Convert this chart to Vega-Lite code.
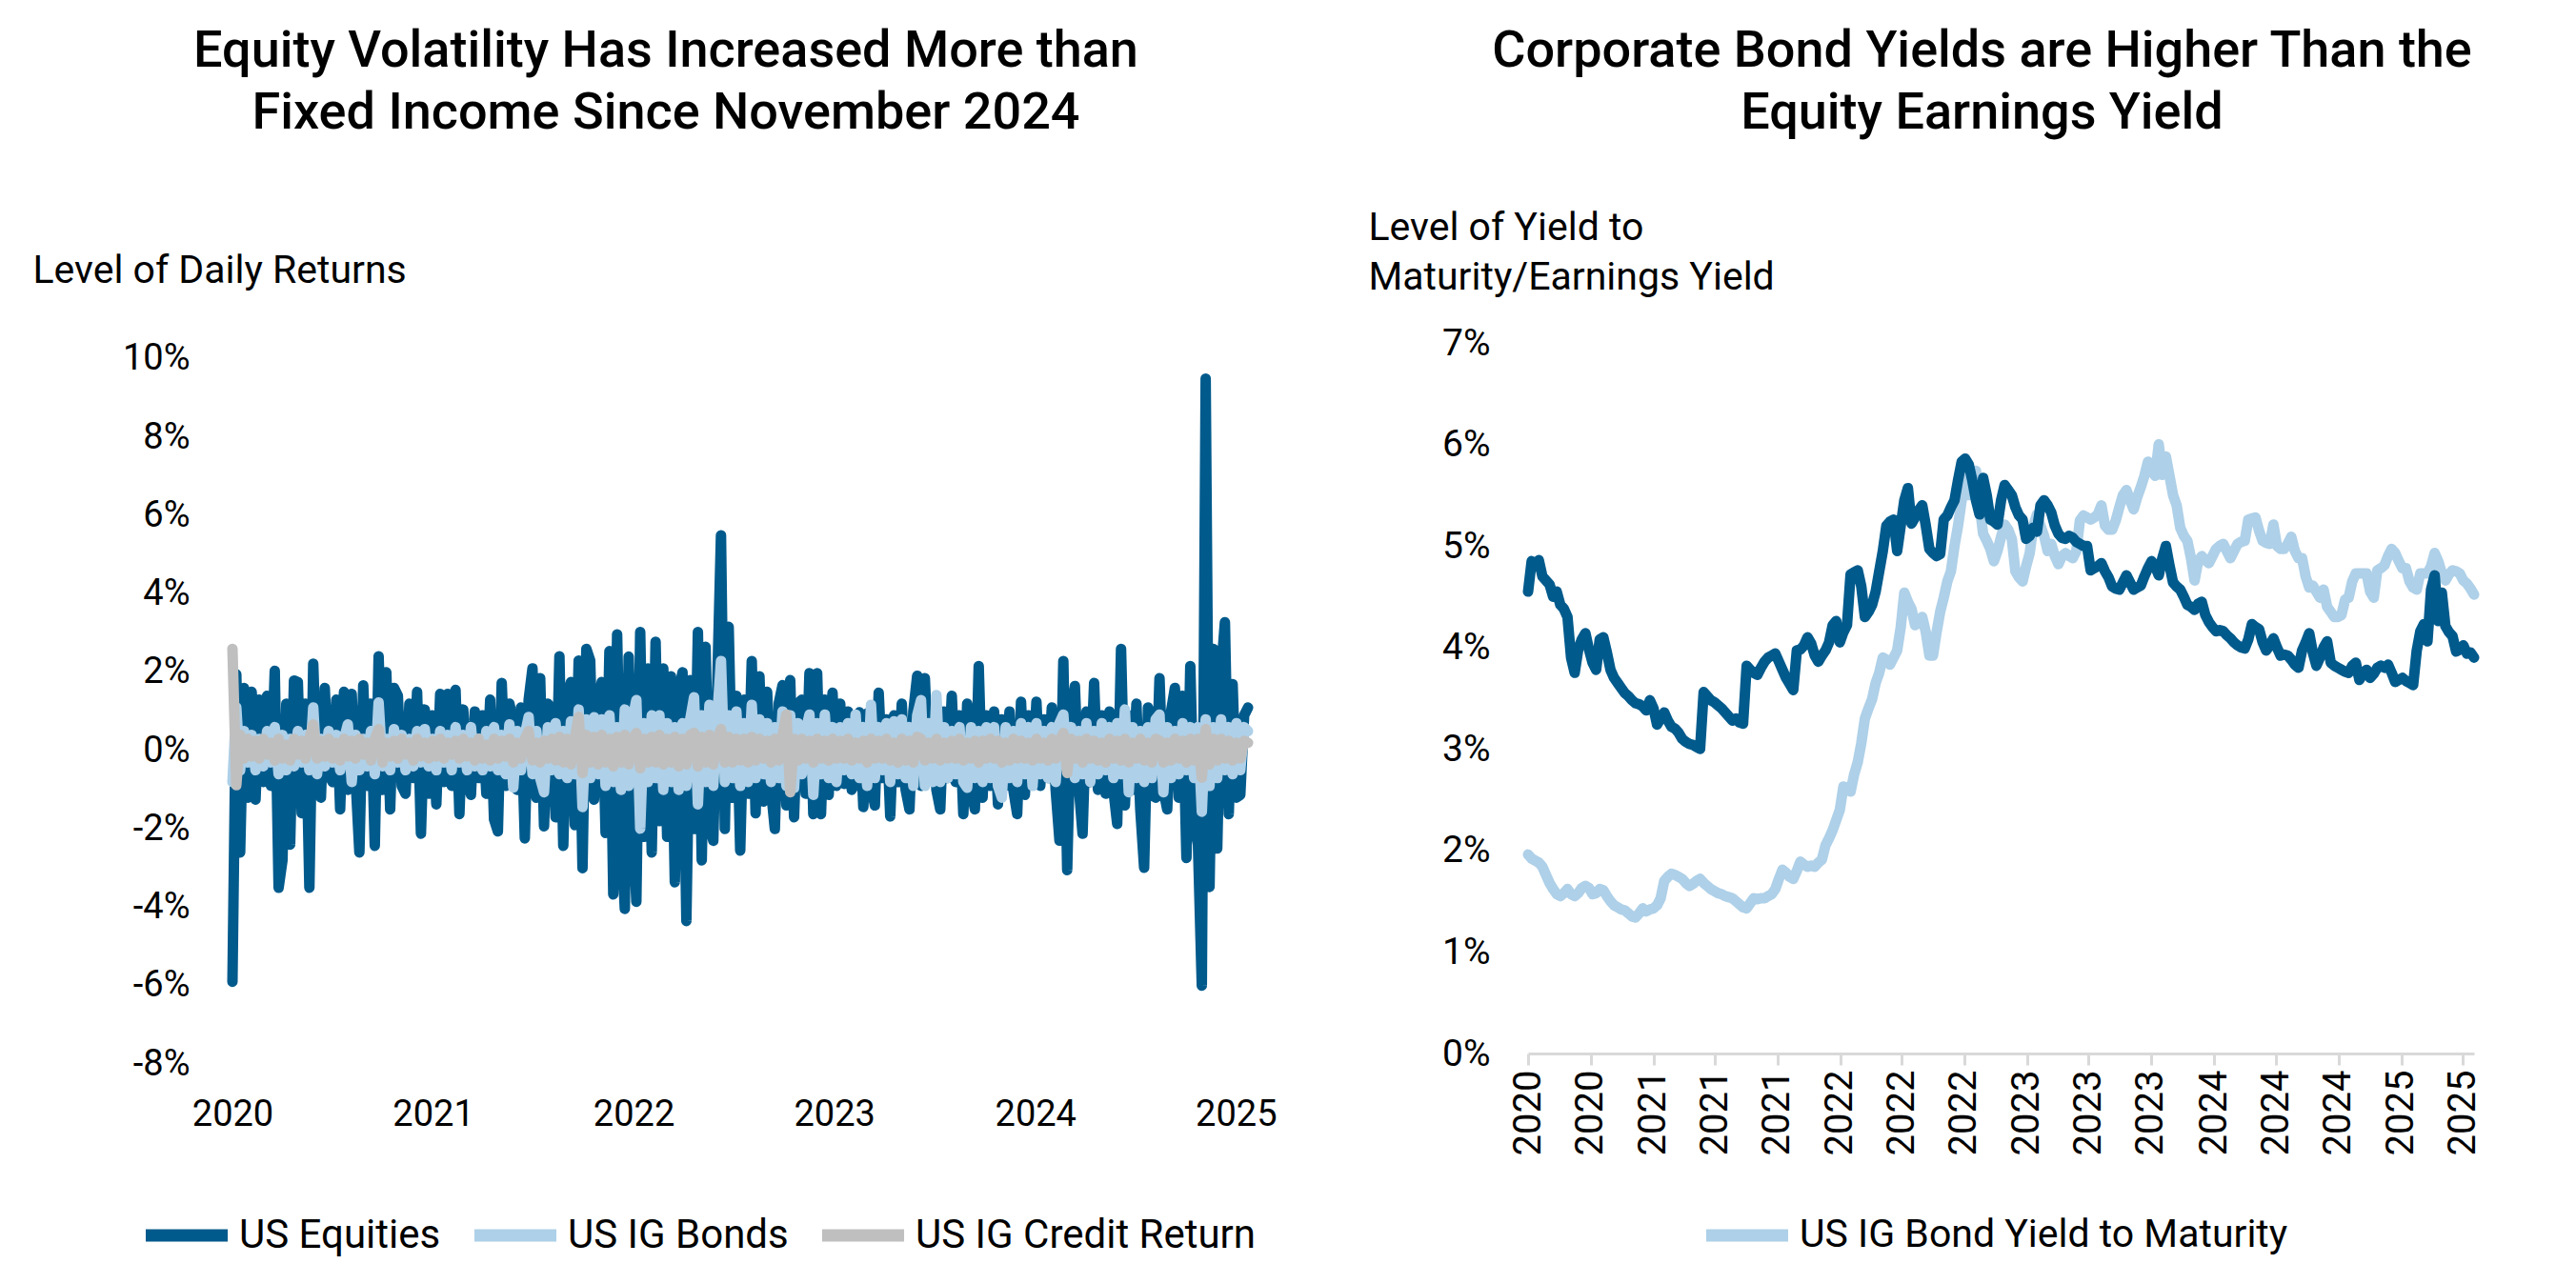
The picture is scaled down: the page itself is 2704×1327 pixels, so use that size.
{
"$schema":"https://vega.github.io/schema/vega-lite/v6.json",
"background":"white",
"padding":{"left":34,"top":27,"right":40,"bottom":10},
"bounds":"flush",
"spacing":294,
"config":{"font":"Roboto","view":{"stroke":null},
"axis":{"labelFont":"Roboto","titleFont":"Roboto","labelColor":"#000","titleColor":"#000","grid":false},
"legend":{"labelFont":"Roboto","labelColor":"#000"},
"title":{"font":"Roboto","color":"#000"}},
"resolve":{"scale":{"color":"independent"},"legend":{"color":"independent"}},
"datasets":{"w":[
{"d":"2020-06-05","eq":-5.9,"bd":-0.8,"cr":2.6,"ey":4.55,"ytm":1.96},
{"d":"2020-06-12","eq":1.95,"bd":1.1,"cr":-0.88,"ey":4.85,"ytm":1.92},
{"d":"2020-06-19","eq":-2.6,"bd":-0.5,"cr":0.4,"ey":4.80,"ytm":1.90},
{"d":"2020-06-26","eq":1.6,"bd":0.5,"cr":-0.2,"ey":4.86,"ytm":1.88},
{"d":"2020-07-03","eq":-1.2,"bd":-0.3,"cr":0.3,"ey":4.70,"ytm":1.84},
{"d":"2020-07-10","eq":1.5,"bd":0.4,"cr":-0.15,"ey":4.66,"ytm":1.76},
{"d":"2020-07-17","eq":-1.25,"bd":-0.5,"cr":0.25,"ey":4.62,"ytm":1.68},
{"d":"2020-07-24","eq":1.3,"bd":0.3,"cr":-0.2,"ey":4.50,"ytm":1.62},
{"d":"2020-07-31","eq":-0.8,"bd":-0.4,"cr":0.3,"ey":4.55,"ytm":1.57},
{"d":"2020-08-07","eq":1.4,"bd":0.5,"cr":-0.1,"ey":4.42,"ytm":1.55},
{"d":"2020-08-14","eq":-0.9,"bd":-0.3,"cr":0.2,"ey":4.38,"ytm":1.58},
{"d":"2020-08-21","eq":2.04,"bd":0.6,"cr":-0.25,"ey":4.30,"ytm":1.62},
{"d":"2020-08-28","eq":-3.5,"bd":-0.6,"cr":0.3,"ey":3.90,"ytm":1.57},
{"d":"2020-09-04","eq":-2.8,"bd":0.4,"cr":-0.2,"ey":3.75,"ytm":1.55},
{"d":"2020-09-11","eq":1.2,"bd":-0.5,"cr":0.15,"ey":3.98,"ytm":1.58},
{"d":"2020-09-18","eq":-2.4,"bd":0.3,"cr":-0.25,"ey":4.08,"ytm":1.63},
{"d":"2020-09-25","eq":1.79,"bd":-0.4,"cr":0.3,"ey":4.14,"ytm":1.65},
{"d":"2020-10-02","eq":1.75,"bd":0.5,"cr":-0.1,"ey":3.98,"ytm":1.63},
{"d":"2020-10-09","eq":-1.6,"bd":-0.3,"cr":0.25,"ey":3.85,"ytm":1.57},
{"d":"2020-10-16","eq":1.2,"bd":0.4,"cr":-0.2,"ey":3.78,"ytm":1.58},
{"d":"2020-10-23","eq":-3.5,"bd":-0.5,"cr":0.3,"ey":4.08,"ytm":1.62},
{"d":"2020-10-30","eq":2.22,"bd":1.1,"cr":0.67,"ey":4.10,"ytm":1.61},
{"d":"2020-11-06","eq":-0.8,"bd":-0.6,"cr":-0.2,"ey":3.95,"ytm":1.55},
{"d":"2020-11-13","eq":-1.2,"bd":0.3,"cr":0.25,"ey":3.78,"ytm":1.50},
{"d":"2020-11-20","eq":1.6,"bd":-0.4,"cr":-0.15,"ey":3.70,"ytm":1.46},
{"d":"2020-11-27","eq":-0.6,"bd":0.5,"cr":0.3,"ey":3.65,"ytm":1.44},
{"d":"2020-12-04","eq":-0.8,"bd":-0.3,"cr":-0.2,"ey":3.60,"ytm":1.42},
{"d":"2020-12-11","eq":1.3,"bd":0.4,"cr":0.2,"ey":3.55,"ytm":1.41},
{"d":"2020-12-18","eq":-1.5,"bd":-0.5,"cr":-0.25,"ey":3.52,"ytm":1.38},
{"d":"2020-12-25","eq":1.5,"bd":0.3,"cr":0.3,"ey":3.48,"ytm":1.35},
{"d":"2021-01-01","eq":-1.0,"bd":0.67,"cr":-0.15,"ey":3.45,"ytm":1.34},
{"d":"2021-01-08","eq":1.45,"bd":-0.8,"cr":0.25,"ey":3.44,"ytm":1.38},
{"d":"2021-01-15","eq":-0.7,"bd":0.4,"cr":-0.2,"ey":3.42,"ytm":1.43},
{"d":"2021-01-22","eq":-2.6,"bd":-0.5,"cr":0.3,"ey":3.38,"ytm":1.40},
{"d":"2021-01-29","eq":1.67,"bd":0.3,"cr":-0.1,"ey":3.48,"ytm":1.42},
{"d":"2021-02-05","eq":-0.9,"bd":-0.4,"cr":0.2,"ey":3.40,"ytm":1.43},
{"d":"2021-02-12","eq":1.2,"bd":0.5,"cr":-0.25,"ey":3.24,"ytm":1.46},
{"d":"2021-02-19","eq":-2.43,"bd":-0.6,"cr":0.3,"ey":3.30,"ytm":1.53},
{"d":"2021-02-26","eq":2.41,"bd":1.23,"cr":0.55,"ey":3.36,"ytm":1.70},
{"d":"2021-03-05","eq":-1.0,"bd":-0.4,"cr":-0.3,"ey":3.28,"ytm":1.74},
{"d":"2021-03-12","eq":2.0,"bd":0.3,"cr":0.2,"ey":3.22,"ytm":1.77},
{"d":"2021-03-19","eq":-1.5,"bd":-0.5,"cr":-0.15,"ey":3.20,"ytm":1.76},
{"d":"2021-03-26","eq":1.6,"bd":0.55,"cr":0.25,"ey":3.16,"ytm":1.74},
{"d":"2021-04-02","eq":1.4,"bd":-0.3,"cr":-0.2,"ey":3.10,"ytm":1.72},
{"d":"2021-04-09","eq":-0.9,"bd":0.4,"cr":0.3,"ey":3.07,"ytm":1.68},
{"d":"2021-04-16","eq":-1.1,"bd":-0.5,"cr":-0.1,"ey":3.05,"ytm":1.65},
{"d":"2021-04-23","eq":1.2,"bd":0.3,"cr":0.2,"ey":3.04,"ytm":1.67},
{"d":"2021-04-30","eq":-0.7,"bd":-0.4,"cr":-0.25,"ey":3.02,"ytm":1.70},
{"d":"2021-05-07","eq":1.5,"bd":0.5,"cr":0.3,"ey":3.00,"ytm":1.72},
{"d":"2021-05-14","eq":-2.12,"bd":-0.3,"cr":-0.15,"ey":3.56,"ytm":1.68},
{"d":"2021-05-21","eq":1.05,"bd":0.55,"cr":0.2,"ey":3.52,"ytm":1.65},
{"d":"2021-05-28","eq":-1.1,"bd":-0.4,"cr":-0.2,"ey":3.48,"ytm":1.62},
{"d":"2021-06-04","eq":0.9,"bd":0.3,"cr":0.25,"ey":3.46,"ytm":1.60},
{"d":"2021-06-11","eq":-1.37,"bd":-0.5,"cr":-0.15,"ey":3.43,"ytm":1.58},
{"d":"2021-06-18","eq":1.45,"bd":0.5,"cr":0.3,"ey":3.40,"ytm":1.57},
{"d":"2021-06-25","eq":-0.8,"bd":-0.3,"cr":-0.2,"ey":3.36,"ytm":1.55},
{"d":"2021-07-02","eq":1.45,"bd":0.4,"cr":0.2,"ey":3.32,"ytm":1.54},
{"d":"2021-07-09","eq":-0.9,"bd":-0.5,"cr":-0.1,"ey":3.28,"ytm":1.53},
{"d":"2021-07-16","eq":1.55,"bd":0.6,"cr":0.25,"ey":3.30,"ytm":1.50},
{"d":"2021-07-23","eq":-1.62,"bd":-0.3,"cr":-0.2,"ey":3.26,"ytm":1.47},
{"d":"2021-07-30","eq":1.05,"bd":0.4,"cr":0.3,"ey":3.25,"ytm":1.44},
{"d":"2021-08-06","eq":-0.8,"bd":-0.5,"cr":-0.15,"ey":3.82,"ytm":1.43},
{"d":"2021-08-13","eq":-1.13,"bd":0.6,"cr":0.2,"ey":3.78,"ytm":1.48},
{"d":"2021-08-20","eq":1.0,"bd":-0.4,"cr":-0.25,"ey":3.75,"ytm":1.53},
{"d":"2021-08-27","eq":-0.7,"bd":0.3,"cr":0.3,"ey":3.73,"ytm":1.52},
{"d":"2021-09-03","eq":0.9,"bd":-0.5,"cr":-0.2,"ey":3.80,"ytm":1.53},
{"d":"2021-09-10","eq":-1.1,"bd":0.5,"cr":0.15,"ey":3.86,"ytm":1.53},
{"d":"2021-09-17","eq":1.3,"bd":-0.4,"cr":-0.25,"ey":3.90,"ytm":1.55},
{"d":"2021-09-24","eq":-1.75,"bd":0.6,"cr":0.3,"ey":3.92,"ytm":1.57},
{"d":"2021-10-01","eq":-2.06,"bd":-0.5,"cr":-0.2,"ey":3.94,"ytm":1.62},
{"d":"2021-10-08","eq":1.73,"bd":0.4,"cr":0.25,"ey":3.86,"ytm":1.72},
{"d":"2021-10-15","eq":-0.9,"bd":-0.6,"cr":-0.15,"ey":3.78,"ytm":1.81},
{"d":"2021-10-22","eq":1.2,"bd":0.67,"cr":0.3,"ey":3.70,"ytm":1.78},
{"d":"2021-10-29","eq":0.75,"bd":-0.94,"cr":-0.3,"ey":3.64,"ytm":1.74},
{"d":"2021-11-05","eq":-1.0,"bd":0.5,"cr":0.2,"ey":3.58,"ytm":1.72},
{"d":"2021-11-12","eq":1.1,"bd":-0.5,"cr":-0.2,"ey":3.97,"ytm":1.80},
{"d":"2021-11-19","eq":-2.24,"bd":0.4,"cr":0.3,"ey":3.98,"ytm":1.89},
{"d":"2021-11-26","eq":1.3,"bd":0.86,"cr":0.5,"ey":4.02,"ytm":1.86},
{"d":"2021-12-03","eq":2.1,"bd":-0.6,"cr":-0.25,"ey":4.10,"ytm":1.84},
{"d":"2021-12-10","eq":-1.2,"bd":0.5,"cr":0.2,"ey":4.04,"ytm":1.85},
{"d":"2021-12-17","eq":1.85,"bd":-0.7,"cr":-0.3,"ey":3.92,"ytm":1.84},
{"d":"2021-12-24","eq":-1.93,"bd":-1.06,"cr":0.25,"ey":3.86,"ytm":1.88},
{"d":"2021-12-31","eq":1.2,"bd":0.6,"cr":-0.2,"ey":3.92,"ytm":1.91},
{"d":"2022-01-07","eq":1.05,"bd":-0.5,"cr":0.3,"ey":3.97,"ytm":2.05},
{"d":"2022-01-14","eq":-1.7,"bd":0.7,"cr":-0.25,"ey":4.05,"ytm":2.12},
{"d":"2022-01-21","eq":2.41,"bd":-0.6,"cr":0.35,"ey":4.22,"ytm":2.20},
{"d":"2022-01-28","eq":-2.43,"bd":0.5,"cr":-0.3,"ey":4.26,"ytm":2.30},
{"d":"2022-02-04","eq":1.4,"bd":-0.7,"cr":0.3,"ey":4.05,"ytm":2.40},
{"d":"2022-02-11","eq":1.75,"bd":0.75,"cr":-0.35,"ey":4.15,"ytm":2.63},
{"d":"2022-02-18","eq":-1.9,"bd":-0.6,"cr":0.3,"ey":4.22,"ytm":2.62},
{"d":"2022-02-25","eq":2.3,"bd":1.05,"cr":0.86,"ey":4.72,"ytm":2.58},
{"d":"2022-03-04","eq":-3.0,"bd":-1.44,"cr":-0.57,"ey":4.74,"ytm":2.75},
{"d":"2022-03-11","eq":2.6,"bd":0.8,"cr":0.4,"ey":4.76,"ytm":2.87},
{"d":"2022-03-18","eq":2.3,"bd":-0.7,"cr":-0.3,"ey":4.60,"ytm":3.06},
{"d":"2022-03-25","eq":-1.25,"bd":0.85,"cr":0.35,"ey":4.30,"ytm":3.30},
{"d":"2022-04-01","eq":1.2,"bd":-0.6,"cr":-0.35,"ey":4.35,"ytm":3.40},
{"d":"2022-04-08","eq":1.75,"bd":0.8,"cr":0.4,"ey":4.42,"ytm":3.49},
{"d":"2022-04-15","eq":-2.1,"bd":-0.9,"cr":-0.3,"ey":4.55,"ytm":3.65},
{"d":"2022-04-22","eq":2.54,"bd":0.9,"cr":0.3,"ey":4.75,"ytm":3.75},
{"d":"2022-04-29","eq":-3.67,"bd":-0.8,"cr":-0.4,"ey":4.95,"ytm":3.90},
{"d":"2022-05-06","eq":2.97,"bd":0.6,"cr":0.35,"ey":5.20,"ytm":3.88},
{"d":"2022-05-13","eq":-2.0,"bd":-1.0,"cr":-0.3,"ey":5.24,"ytm":3.83},
{"d":"2022-05-20","eq":-4.04,"bd":1.05,"cr":0.4,"ey":5.26,"ytm":3.90},
{"d":"2022-05-27","eq":2.4,"bd":-0.9,"cr":-0.35,"ey":4.95,"ytm":3.97},
{"d":"2022-06-03","eq":-1.5,"bd":0.8,"cr":0.3,"ey":5.20,"ytm":4.20},
{"d":"2022-06-10","eq":-3.86,"bd":1.29,"cr":0.45,"ey":5.45,"ytm":4.54},
{"d":"2022-06-17","eq":3.03,"bd":-1.99,"cr":-0.45,"ey":5.57,"ytm":4.45},
{"d":"2022-06-24","eq":-2.2,"bd":0.7,"cr":0.3,"ey":5.22,"ytm":4.38},
{"d":"2022-07-01","eq":2.1,"bd":-0.8,"cr":-0.3,"ey":5.28,"ytm":4.22},
{"d":"2022-07-08","eq":-2.6,"bd":0.9,"cr":0.35,"ey":5.35,"ytm":4.25},
{"d":"2022-07-15","eq":2.78,"bd":-0.7,"cr":-0.3,"ey":5.40,"ytm":4.30},
{"d":"2022-07-22","eq":-1.8,"bd":0.9,"cr":0.4,"ey":5.20,"ytm":4.15},
{"d":"2022-07-29","eq":2.1,"bd":-1.0,"cr":-0.35,"ey":4.97,"ytm":3.92},
{"d":"2022-08-05","eq":-2.2,"bd":0.7,"cr":0.3,"ey":4.93,"ytm":3.92},
{"d":"2022-08-12","eq":1.9,"bd":-0.8,"cr":-0.3,"ey":4.90,"ytm":4.15},
{"d":"2022-08-19","eq":-3.36,"bd":0.6,"cr":0.35,"ey":4.92,"ytm":4.35},
{"d":"2022-08-26","eq":1.5,"bd":-1.0,"cr":-0.4,"ey":5.26,"ytm":4.49},
{"d":"2022-09-02","eq":2.0,"bd":0.7,"cr":0.3,"ey":5.30,"ytm":4.65},
{"d":"2022-09-09","eq":-4.35,"bd":-0.9,"cr":-0.35,"ey":5.38,"ytm":4.75},
{"d":"2022-09-16","eq":1.8,"bd":0.8,"cr":0.4,"ey":5.45,"ytm":5.00},
{"d":"2022-09-23","eq":-2.0,"bd":1.36,"cr":0.45,"ey":5.65,"ytm":5.20},
{"d":"2022-09-30","eq":3.03,"bd":-1.37,"cr":-0.4,"ey":5.83,"ytm":5.45},
{"d":"2022-10-07","eq":-2.8,"bd":0.9,"cr":0.35,"ey":5.86,"ytm":5.79},
{"d":"2022-10-14","eq":2.65,"bd":-0.8,"cr":-0.3,"ey":5.80,"ytm":5.50},
{"d":"2022-10-21","eq":-1.9,"bd":1.17,"cr":0.4,"ey":5.64,"ytm":5.60},
{"d":"2022-10-28","eq":-2.3,"bd":-0.9,"cr":-0.35,"ey":5.45,"ytm":5.74},
{"d":"2022-11-04","eq":1.6,"bd":0.8,"cr":0.3,"ey":5.31,"ytm":5.40},
{"d":"2022-11-11","eq":5.5,"bd":2.29,"cr":0.55,"ey":5.67,"ytm":5.12},
{"d":"2022-11-18","eq":-2.0,"bd":-0.8,"cr":-0.3,"ey":5.50,"ytm":5.05},
{"d":"2022-11-25","eq":3.16,"bd":0.9,"cr":0.35,"ey":5.26,"ytm":4.97},
{"d":"2022-12-02","eq":-1.2,"bd":-0.7,"cr":-0.3,"ey":5.24,"ytm":4.85},
{"d":"2022-12-09","eq":1.4,"bd":1.0,"cr":0.3,"ey":5.21,"ytm":4.95},
{"d":"2022-12-16","eq":-2.55,"bd":-0.9,"cr":-0.25,"ey":5.45,"ytm":5.09},
{"d":"2022-12-23","eq":1.3,"bd":0.7,"cr":0.3,"ey":5.60,"ytm":5.21},
{"d":"2022-12-30","eq":-1.1,"bd":-0.8,"cr":-0.3,"ey":5.55,"ytm":5.16},
{"d":"2023-01-06","eq":2.29,"bd":1.17,"cr":0.35,"ey":5.50,"ytm":5.07},
{"d":"2023-01-13","eq":-1.6,"bd":-0.7,"cr":-0.25,"ey":5.38,"ytm":4.75},
{"d":"2023-01-20","eq":1.9,"bd":0.8,"cr":0.3,"ey":5.30,"ytm":4.69},
{"d":"2023-01-27","eq":-1.3,"bd":-0.6,"cr":-0.2,"ey":5.26,"ytm":4.65},
{"d":"2023-02-03","eq":1.5,"bd":0.7,"cr":0.25,"ey":5.07,"ytm":4.80},
{"d":"2023-02-10","eq":-1.0,"bd":-0.8,"cr":-0.3,"ey":5.10,"ytm":4.93},
{"d":"2023-02-17","eq":-2.0,"bd":0.6,"cr":0.3,"ey":5.18,"ytm":5.20},
{"d":"2023-02-24","eq":1.2,"bd":-0.7,"cr":-0.25,"ey":5.14,"ytm":5.31},
{"d":"2023-03-03","eq":1.67,"bd":1.0,"cr":0.4,"ey":5.40,"ytm":5.20},
{"d":"2023-03-10","eq":-1.4,"bd":-0.9,"cr":0.92,"ey":5.45,"ytm":5.10},
{"d":"2023-03-17","eq":1.8,"bd":0.9,"cr":-1.06,"ey":5.40,"ytm":4.95},
{"d":"2023-03-24","eq":-1.7,"bd":-0.95,"cr":0.3,"ey":5.33,"ytm":5.02},
{"d":"2023-03-31","eq":1.2,"bd":0.7,"cr":-0.25,"ey":5.20,"ytm":4.90},
{"d":"2023-04-07","eq":1.3,"bd":-0.6,"cr":0.3,"ey":5.12,"ytm":4.82},
{"d":"2023-04-14","eq":-1.1,"bd":0.5,"cr":-0.2,"ey":5.08,"ytm":4.90},
{"d":"2023-04-21","eq":1.98,"bd":0.92,"cr":0.25,"ey":5.07,"ytm":4.93},
{"d":"2023-04-28","eq":-1.62,"bd":-1.13,"cr":-0.3,"ey":5.10,"ytm":4.90},
{"d":"2023-05-05","eq":1.98,"bd":0.7,"cr":0.3,"ey":5.08,"ytm":4.88},
{"d":"2023-05-12","eq":-1.62,"bd":-0.6,"cr":-0.2,"ey":5.04,"ytm":4.95},
{"d":"2023-05-19","eq":1.3,"bd":0.92,"cr":0.25,"ey":5.02,"ytm":5.25},
{"d":"2023-05-26","eq":-1.13,"bd":-0.7,"cr":-0.25,"ey":5.00,"ytm":5.30},
{"d":"2023-06-02","eq":1.48,"bd":0.6,"cr":0.3,"ey":5.00,"ytm":5.28},
{"d":"2023-06-09","eq":-0.9,"bd":-0.8,"cr":-0.2,"ey":4.76,"ytm":5.26},
{"d":"2023-06-16","eq":1.2,"bd":0.6,"cr":0.25,"ey":4.78,"ytm":5.28},
{"d":"2023-06-23","eq":-0.85,"bd":-0.5,"cr":-0.2,"ey":4.80,"ytm":5.31},
{"d":"2023-06-30","eq":1.0,"bd":0.7,"cr":0.3,"ey":4.83,"ytm":5.40},
{"d":"2023-07-07","eq":-1.0,"bd":-0.6,"cr":-0.25,"ey":4.75,"ytm":5.20},
{"d":"2023-07-14","eq":-0.8,"bd":0.92,"cr":0.2,"ey":4.69,"ytm":5.16},
{"d":"2023-07-21","eq":0.98,"bd":-0.7,"cr":-0.2,"ey":4.60,"ytm":5.16},
{"d":"2023-07-28","eq":-1.44,"bd":0.6,"cr":0.25,"ey":4.58,"ytm":5.25},
{"d":"2023-08-04","eq":0.95,"bd":-0.9,"cr":-0.3,"ey":4.57,"ytm":5.38},
{"d":"2023-08-11","eq":-0.9,"bd":1.17,"cr":0.3,"ey":4.64,"ytm":5.50},
{"d":"2023-08-18","eq":-1.4,"bd":-0.7,"cr":-0.2,"ey":4.71,"ytm":5.55},
{"d":"2023-08-25","eq":1.48,"bd":0.6,"cr":0.25,"ey":4.64,"ytm":5.45},
{"d":"2023-09-01","eq":-0.7,"bd":-0.5,"cr":-0.2,"ey":4.57,"ytm":5.36},
{"d":"2023-09-08","eq":0.8,"bd":0.7,"cr":0.3,"ey":4.59,"ytm":5.48},
{"d":"2023-09-15","eq":-1.68,"bd":-0.8,"cr":-0.25,"ey":4.61,"ytm":5.58},
{"d":"2023-09-22","eq":0.9,"bd":0.75,"cr":0.2,"ey":4.70,"ytm":5.69},
{"d":"2023-09-29","eq":-0.8,"bd":-0.6,"cr":-0.3,"ey":4.78,"ytm":5.83},
{"d":"2023-10-06","eq":1.2,"bd":0.8,"cr":0.3,"ey":4.85,"ytm":5.75},
{"d":"2023-10-13","eq":-1.0,"bd":-0.7,"cr":-0.25,"ey":4.80,"ytm":5.69},
{"d":"2023-10-20","eq":-1.5,"bd":0.6,"cr":0.25,"ey":4.71,"ytm":6.00},
{"d":"2023-10-27","eq":1.0,"bd":-0.9,"cr":-0.3,"ey":4.88,"ytm":5.70},
{"d":"2023-11-03","eq":1.91,"bd":0.9,"cr":0.35,"ey":5.00,"ytm":5.88},
{"d":"2023-11-10","eq":-0.9,"bd":1.29,"cr":0.3,"ey":4.81,"ytm":5.69},
{"d":"2023-11-17","eq":1.85,"bd":-0.9,"cr":-0.25,"ey":4.64,"ytm":5.50},
{"d":"2023-11-24","eq":-0.6,"bd":0.7,"cr":0.2,"ey":4.60,"ytm":5.40},
{"d":"2023-12-01","eq":0.9,"bd":-0.8,"cr":-0.2,"ey":4.57,"ytm":5.18},
{"d":"2023-12-08","eq":-1.0,"bd":1.42,"cr":0.3,"ey":4.50,"ytm":5.10},
{"d":"2023-12-15","eq":-1.5,"bd":-0.8,"cr":-0.25,"ey":4.42,"ytm":5.05},
{"d":"2023-12-22","eq":1.0,"bd":0.6,"cr":0.2,"ey":4.40,"ytm":4.88},
{"d":"2023-12-29","eq":-0.7,"bd":-0.7,"cr":-0.2,"ey":4.37,"ytm":4.66},
{"d":"2024-01-05","eq":1.4,"bd":0.5,"cr":0.25,"ey":4.43,"ytm":4.85},
{"d":"2024-01-12","eq":-0.8,"bd":-0.6,"cr":-0.2,"ey":4.45,"ytm":4.90},
{"d":"2024-01-19","eq":0.9,"bd":0.6,"cr":0.3,"ey":4.32,"ytm":4.86},
{"d":"2024-01-26","eq":-1.62,"bd":-0.8,"cr":-0.25,"ey":4.25,"ytm":4.83},
{"d":"2024-02-02","eq":1.2,"bd":-0.95,"cr":0.2,"ey":4.20,"ytm":4.90},
{"d":"2024-02-09","eq":-1.0,"bd":0.6,"cr":-0.2,"ey":4.16,"ytm":4.97},
{"d":"2024-02-16","eq":-1.5,"bd":-0.7,"cr":0.25,"ey":4.17,"ytm":5.00},
{"d":"2024-02-23","eq":2.16,"bd":0.5,"cr":-0.3,"ey":4.16,"ytm":5.02},
{"d":"2024-03-01","eq":-1.2,"bd":-0.8,"cr":0.25,"ey":4.12,"ytm":4.95},
{"d":"2024-03-08","eq":0.9,"bd":0.6,"cr":-0.2,"ey":4.09,"ytm":4.88},
{"d":"2024-03-15","eq":-0.9,"bd":-0.7,"cr":0.3,"ey":4.05,"ytm":4.95},
{"d":"2024-03-22","eq":1.0,"bd":0.6,"cr":-0.2,"ey":4.02,"ytm":5.02},
{"d":"2024-03-29","eq":-1.37,"bd":-0.9,"cr":0.25,"ey":4.00,"ytm":5.04},
{"d":"2024-04-05","eq":0.8,"bd":-1.2,"cr":-0.3,"ey":3.99,"ytm":5.05},
{"d":"2024-04-12","eq":-0.9,"bd":0.6,"cr":0.2,"ey":4.08,"ytm":5.26},
{"d":"2024-04-19","eq":1.0,"bd":-0.7,"cr":-0.25,"ey":4.23,"ytm":5.27},
{"d":"2024-04-26","eq":-1.0,"bd":0.5,"cr":0.3,"ey":4.20,"ytm":5.28},
{"d":"2024-05-03","eq":-1.62,"bd":-0.8,"cr":-0.2,"ey":4.18,"ytm":5.15},
{"d":"2024-05-10","eq":1.25,"bd":0.7,"cr":0.25,"ey":4.05,"ytm":5.05},
{"d":"2024-05-17","eq":-1.13,"bd":-0.6,"cr":-0.2,"ey":3.97,"ytm":5.03},
{"d":"2024-05-24","eq":0.9,"bd":0.6,"cr":0.2,"ey":4.02,"ytm":5.02},
{"d":"2024-05-31","eq":-0.8,"bd":-0.9,"cr":-0.25,"ey":4.09,"ytm":5.21},
{"d":"2024-06-07","eq":1.25,"bd":0.7,"cr":0.3,"ey":4.00,"ytm":5.00},
{"d":"2024-06-14","eq":-0.9,"bd":-0.6,"cr":-0.2,"ey":3.92,"ytm":4.97},
{"d":"2024-06-21","eq":0.8,"bd":0.5,"cr":0.2,"ey":3.93,"ytm":4.97},
{"d":"2024-06-28","eq":-0.7,"bd":-0.7,"cr":-0.25,"ey":3.92,"ytm":5.02},
{"d":"2024-07-05","eq":1.1,"bd":0.6,"cr":0.3,"ey":3.88,"ytm":5.09},
{"d":"2024-07-12","eq":-1.0,"bd":-0.8,"cr":-0.2,"ey":3.83,"ytm":4.95},
{"d":"2024-07-19","eq":-2.3,"bd":0.7,"cr":0.25,"ey":3.80,"ytm":4.88},
{"d":"2024-07-26","eq":2.29,"bd":0.92,"cr":0.45,"ey":3.97,"ytm":4.88},
{"d":"2024-08-02","eq":-3.05,"bd":-0.5,"cr":-0.57,"ey":4.05,"ytm":4.70},
{"d":"2024-08-09","eq":1.0,"bd":0.6,"cr":0.3,"ey":4.14,"ytm":4.59},
{"d":"2024-08-16","eq":1.65,"bd":-0.7,"cr":-0.2,"ey":3.95,"ytm":4.61},
{"d":"2024-08-23","eq":-0.9,"bd":0.5,"cr":0.25,"ey":3.82,"ytm":4.55},
{"d":"2024-08-30","eq":-2.12,"bd":-0.6,"cr":-0.3,"ey":3.90,"ytm":4.49},
{"d":"2024-09-06","eq":1.0,"bd":0.7,"cr":0.3,"ey":4.00,"ytm":4.57},
{"d":"2024-09-13","eq":-0.8,"bd":-0.8,"cr":-0.2,"ey":4.06,"ytm":4.40},
{"d":"2024-09-20","eq":1.73,"bd":0.5,"cr":0.25,"ey":3.85,"ytm":4.35},
{"d":"2024-09-27","eq":-1.0,"bd":-0.6,"cr":-0.25,"ey":3.82,"ytm":4.30},
{"d":"2024-10-04","eq":0.9,"bd":0.7,"cr":0.2,"ey":3.80,"ytm":4.30},
{"d":"2024-10-11","eq":-1.1,"bd":-0.5,"cr":-0.3,"ey":3.78,"ytm":4.32},
{"d":"2024-10-18","eq":1.0,"bd":0.6,"cr":0.3,"ey":3.76,"ytm":4.47},
{"d":"2024-10-25","eq":-1.0,"bd":-0.7,"cr":-0.2,"ey":3.75,"ytm":4.49},
{"d":"2024-11-01","eq":-1.87,"bd":0.7,"cr":0.25,"ey":3.82,"ytm":4.65},
{"d":"2024-11-08","eq":2.6,"bd":-0.6,"cr":-0.25,"ey":3.85,"ytm":4.73},
{"d":"2024-11-15","eq":-1.4,"bd":1.05,"cr":0.3,"ey":3.68,"ytm":4.73},
{"d":"2024-11-22","eq":0.9,"bd":-1.06,"cr":-0.3,"ey":3.74,"ytm":4.73},
{"d":"2024-11-29","eq":-1.0,"bd":0.6,"cr":0.2,"ey":3.78,"ytm":4.73},
{"d":"2024-12-06","eq":1.2,"bd":-0.7,"cr":-0.2,"ey":3.70,"ytm":4.55},
{"d":"2024-12-13","eq":-1.5,"bd":0.5,"cr":0.3,"ey":3.74,"ytm":4.49},
{"d":"2024-12-20","eq":-2.99,"bd":-0.8,"cr":-0.25,"ey":3.80,"ytm":4.76},
{"d":"2024-12-27","eq":1.1,"bd":0.6,"cr":0.2,"ey":3.82,"ytm":4.78},
{"d":"2025-01-03","eq":0.9,"bd":-0.7,"cr":-0.3,"ey":3.80,"ytm":4.81},
{"d":"2025-01-10","eq":-1.2,"bd":0.8,"cr":0.3,"ey":3.83,"ytm":4.90},
{"d":"2025-01-17","eq":1.85,"bd":0.92,"cr":0.25,"ey":3.75,"ytm":4.97},
{"d":"2025-01-24","eq":-1.0,"bd":-1.06,"cr":-0.3,"ey":3.66,"ytm":4.93},
{"d":"2025-01-31","eq":-1.5,"bd":0.6,"cr":0.2,"ey":3.68,"ytm":4.85},
{"d":"2025-02-07","eq":1.0,"bd":-0.7,"cr":-0.25,"ey":3.70,"ytm":4.78},
{"d":"2025-02-14","eq":1.6,"bd":0.5,"cr":0.3,"ey":3.67,"ytm":4.78},
{"d":"2025-02-21","eq":-1.2,"bd":-0.6,"cr":-0.2,"ey":3.65,"ytm":4.65},
{"d":"2025-02-28","eq":1.4,"bd":0.7,"cr":0.25,"ey":3.63,"ytm":4.59},
{"d":"2025-03-07","eq":-2.74,"bd":-0.5,"cr":-0.3,"ey":3.97,"ytm":4.57},
{"d":"2025-03-14","eq":2.16,"bd":0.6,"cr":0.3,"ey":4.16,"ytm":4.73},
{"d":"2025-03-21","eq":-1.8,"bd":-0.7,"cr":-0.25,"ey":4.23,"ytm":4.73},
{"d":"2025-03-28","eq":-2.4,"bd":0.6,"cr":0.3,"ey":4.06,"ytm":4.73},
{"d":"2025-04-04","eq":-6.0,"bd":-1.56,"cr":-0.69,"ey":4.57,"ytm":4.80},
{"d":"2025-04-11","eq":9.5,"bd":0.8,"cr":0.55,"ey":4.71,"ytm":4.93},
{"d":"2025-04-18","eq":-3.48,"bd":-0.9,"cr":-0.35,"ey":4.26,"ytm":4.85},
{"d":"2025-04-25","eq":2.6,"bd":0.6,"cr":0.3,"ey":4.54,"ytm":4.73},
{"d":"2025-05-02","eq":-2.5,"bd":-0.7,"cr":-0.25,"ey":4.21,"ytm":4.66},
{"d":"2025-05-09","eq":2.0,"bd":0.8,"cr":0.3,"ey":4.15,"ytm":4.72},
{"d":"2025-05-16","eq":3.28,"bd":-0.5,"cr":-0.2,"ey":4.11,"ytm":4.76},
{"d":"2025-05-23","eq":-1.62,"bd":0.6,"cr":0.25,"ey":3.96,"ytm":4.75},
{"d":"2025-05-30","eq":1.7,"bd":-0.6,"cr":-0.25,"ey":3.98,"ytm":4.73},
{"d":"2025-06-06","eq":-1.2,"bd":0.7,"cr":0.2,"ey":4.02,"ytm":4.66},
{"d":"2025-06-13","eq":-1.13,"bd":-0.5,"cr":-0.2,"ey":3.94,"ytm":4.63},
{"d":"2025-06-20","eq":0.9,"bd":0.6,"cr":0.25,"ey":3.95,"ytm":4.58},
{"d":"2025-06-27","eq":1.1,"bd":0.5,"cr":0.2,"ey":3.90,"ytm":4.52}
]},
"hconcat":[
{
"width":1066,"height":757,
"title":{"text":["Equity Volatility Has Increased More than","Fixed Income Since November 2024"],"anchor":"middle","frame":"group","dx":-78,"offset":117,"fontSize":54,"fontWeight":500,"lineHeight":65},
"data":{"name":"w"},
"transform":[{"fold":["eq","bd","cr"],"as":["s","v"]}],
"encoding":{
"x":{"field":"d","type":"temporal","scale":{"domain":[{"year":2020,"month":6,"date":5},{"year":2025,"month":6,"date":27}]},
"axis":{"values":[{"year":2020,"month":6,"date":5},{"year":2021,"month":6,"date":5},{"year":2022,"month":6,"date":5},{"year":2023,"month":6,"date":5},{"year":2024,"month":6,"date":5},{"year":2025,"month":6,"date":5}],"format":"%Y","domain":false,"ticks":false,"labelPadding":34,"labelFontSize":38,"title":null,"labelFlush":false,"labelOverlap":false}},
"y":{"field":"v","type":"quantitative","scale":{"domain":[-8,10.41],"nice":false,"zero":false},
"axis":{"values":[-8,-6,-4,-2,0,2,4,6,8,10],"labelExpr":"datum.value + '%'","domain":false,"ticks":false,"labelPadding":45,"labelFontSize":38,"title":"Level of Daily Returns","titleAngle":0,"titleX":-210,"titleY":-76,"titleAlign":"left","titleBaseline":"middle","titleFontSize":41,"titleFontWeight":"normal"}},
"color":{"field":"s","type":"nominal","scale":{"domain":["eq","bd","cr"],"range":["#005A8C","#AED0E8","#BFBFBF"]},
"legend":{"orient":"none","legendX":-98,"legendY":887,"direction":"horizontal","title":null,"symbolType":"stroke","symbolSize":7400,"symbolStrokeWidth":13,"labelFontSize":42,"labelOffset":5,"columnPadding":8,"labelLimit":1000,"labelExpr":"datum.label == 'eq' ? 'US Equities' : datum.label == 'bd' ? 'US IG Bonds' : 'US IG Credit Return'"}}
},
"layer":[
{"transform":[{"filter":"datum.s == 'eq'"}],"mark":{"type":"line","strokeWidth":11,"strokeCap":"round","strokeJoin":"round"}},
{"transform":[{"filter":"datum.s == 'bd'"}],"mark":{"type":"line","strokeWidth":11,"strokeCap":"round","strokeJoin":"round"}},
{"transform":[{"filter":"datum.s == 'cr'"}],"mark":{"type":"line","strokeWidth":11,"strokeCap":"round","strokeJoin":"round"}}
]
},
{
"width":993,"height":746,
"title":{"text":["Corporate Bond Yields are Higher Than the","Equity Earnings Yield"],"anchor":"middle","frame":"group","dx":-20,"offset":72,"fontSize":54,"fontWeight":500,"lineHeight":65},
"data":{"name":"w"},
"transform":[{"fold":["ytm","ey"],"as":["s","v"]}],
"encoding":{
"x":{"field":"d","type":"temporal","scale":{"domain":[{"year":2020,"month":6,"date":5},{"year":2025,"month":6,"date":27}]},
"axis":{"values":[{"year":2020,"month":6,"date":5},{"year":2020,"month":10,"date":5},{"year":2021,"month":2,"date":5},{"year":2021,"month":6,"date":5},{"year":2021,"month":10,"date":5},{"year":2022,"month":2,"date":5},{"year":2022,"month":6,"date":5},{"year":2022,"month":10,"date":5},{"year":2023,"month":2,"date":5},{"year":2023,"month":6,"date":5},{"year":2023,"month":10,"date":5},{"year":2024,"month":2,"date":5},{"year":2024,"month":6,"date":5},{"year":2024,"month":10,"date":5},{"year":2025,"month":2,"date":5},{"year":2025,"month":6,"date":5}],"format":"%Y","labelAngle":-90,"domain":true,"domainColor":"#D9D9D9","domainWidth":3,"ticks":true,"tickColor":"#D9D9D9","tickWidth":3,"tickSize":12,"labelPadding":5,"labelFontSize":40,"title":null,"labelFlush":false,"labelOverlap":false}},
"y":{"field":"v","type":"quantitative","scale":{"domain":[0,7],"nice":false},
"axis":{"values":[0,1,2,3,4,5,6,7],"labelExpr":"datum.value + '%'","domain":false,"ticks":false,"labelPadding":40,"labelFontSize":39,"title":["Level of Yield to","Maturity/Earnings Yield"],"titleAngle":0,"titleX":-168,"titleY":-121,"titleAlign":"left","titleBaseline":"middle","titleFontSize":41,"titleFontWeight":"normal","titleLineHeight":52}}
},
"layer":[
{"transform":[{"filter":"datum.s == 'ytm'"}],"mark":{"type":"line","strokeWidth":11,"strokeCap":"round","strokeJoin":"round"},
"encoding":{"color":{"datum":"US IG Bond Yield to Maturity","type":"nominal","scale":{"range":["#AED0E8"]},
"legend":{"orient":"none","legendX":180,"legendY":887,"direction":"horizontal","title":null,"symbolType":"stroke","symbolSize":7400,"symbolStrokeWidth":13,"labelFontSize":41,"labelOffset":5,"labelLimit":1000}}}},
{"transform":[{"filter":"datum.s == 'ey'"}],"mark":{"type":"line","color":"#005A8C","strokeWidth":11,"strokeCap":"round","strokeJoin":"round"}}
]
}
]
}
